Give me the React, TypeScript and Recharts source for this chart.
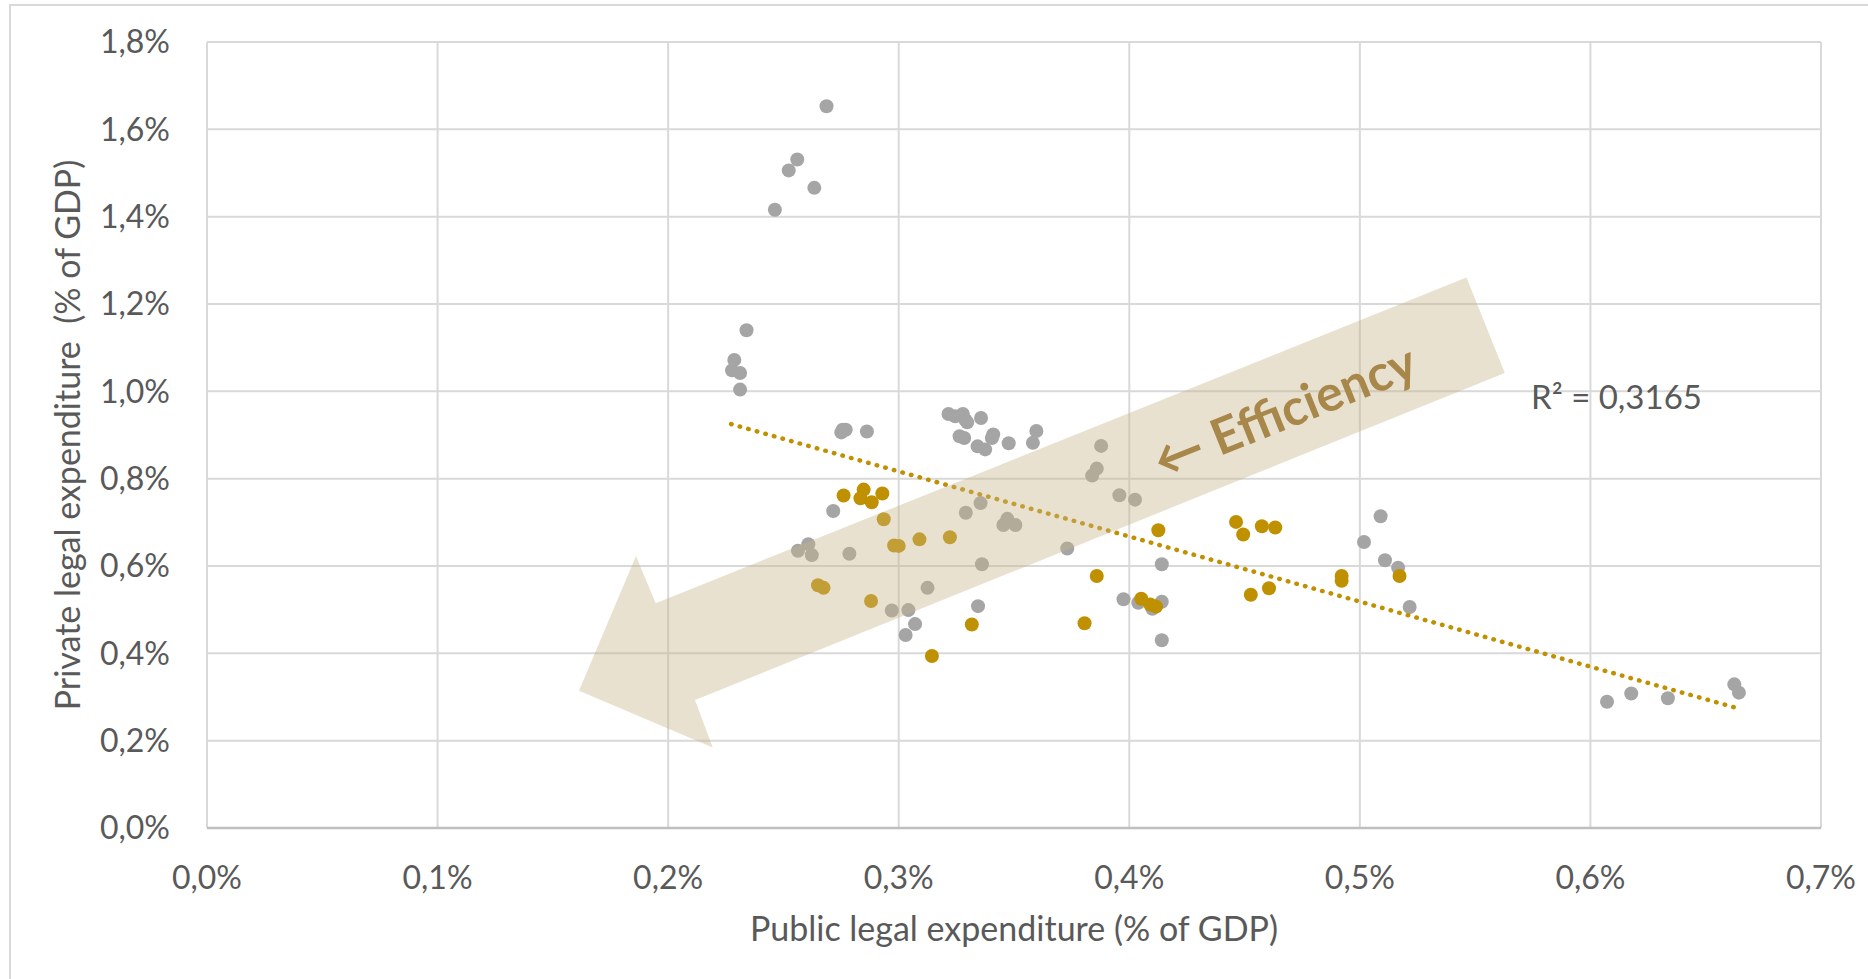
import { CartesianGrid, Scatter, ScatterChart, XAxis, YAxis } from "recharts";

// public legal expenditure (x) and private legal expenditure (y), % of GDP
const grayX = [
	0.2687, 0.256, 0.2523, 0.2634, 0.2463, 0.234, 0.2287, 0.2277, 0.2312, 0.2312,
	0.2757, 0.277, 0.2751, 0.2862, 0.3216, 0.3245, 0.3278, 0.329, 0.3297, 0.3357,
	0.3264, 0.3284, 0.3342, 0.3375, 0.341, 0.3404, 0.3477, 0.3582, 0.3597, 0.3878,
	0.3859, 0.3839, 0.3957, 0.4025, 0.2716, 0.3355, 0.3291, 0.3471, 0.3454, 0.3506,
	0.2608, 0.2563, 0.2623, 0.2786, 0.3731, 0.3361, 0.3125, 0.297, 0.3042, 0.3071,
	0.303, 0.3344, 0.4141, 0.3975, 0.4039, 0.41, 0.4141, 0.4141, 0.509, 0.5018,
	0.5109, 0.5166, 0.5216, 0.6072, 0.6177, 0.6336, 0.6624, 0.6644,
];
const grayY = [
	1.653, 1.531, 1.506, 1.466, 1.416, 1.14, 1.072, 1.048, 1.042, 1.004,
	0.912, 0.912, 0.906, 0.908, 0.948, 0.943, 0.948, 0.934, 0.929, 0.939,
	0.897, 0.893, 0.874, 0.867, 0.901, 0.893, 0.881, 0.882, 0.909, 0.875,
	0.823, 0.807, 0.762, 0.752, 0.726, 0.744, 0.722, 0.708, 0.694, 0.694,
	0.65, 0.635, 0.625, 0.628, 0.64, 0.604, 0.55, 0.498, 0.499, 0.467,
	0.442, 0.508, 0.604, 0.524, 0.516, 0.502, 0.518, 0.43, 0.714, 0.655,
	0.613, 0.596, 0.506, 0.289, 0.308, 0.297, 0.329, 0.31,
];
const goldX = [
	0.2761, 0.2848, 0.2834, 0.2883, 0.2929, 0.2935, 0.298, 0.3, 0.309, 0.3222,
	0.265, 0.2674, 0.288, 0.3317, 0.3144, 0.3859, 0.3806, 0.4126, 0.4052, 0.4091,
	0.4116, 0.4463, 0.4494, 0.4575, 0.4633, 0.4527, 0.4606, 0.4921, 0.4921, 0.5172,
];
const goldY = [
	0.7615, 0.775, 0.755, 0.746, 0.766, 0.707, 0.647, 0.646, 0.661, 0.666,
	0.556, 0.55, 0.52, 0.466, 0.394, 0.577, 0.469, 0.682, 0.525, 0.512,
	0.507, 0.701, 0.672, 0.691, 0.688, 0.534, 0.549, 0.577, 0.566, 0.577,
];
// linear trendline end points as drawn
const trendX = [0.2273, 0.664];
const trendY = [0.925, 0.274];

const xTicks = [0, 0.1, 0.2, 0.3, 0.4, 0.5, 0.6, 0.7];
const yTicks = [0, 0.2, 0.4, 0.6, 0.8, 1.0, 1.2, 1.4, 1.6, 1.8];

const xTitle = "Public legal expenditure (% of GDP)";
const yTitle = "Private legal expenditure \u00A0(% of GDP)";
const r2Text = "R² = 0,3165";
const arrowText = "← Efficiency";

const GRAY = "#A5A5A5";
const GOLD = "#BF9000";
const TEXT = "#595959";

const toPoints = (xs: number[], ys: number[]) => xs.map((x, i) => ({ x, y: ys[i] }));
const pct = (v: number) => v.toFixed(1).replace(".", ",") + "%";

const dot = (color: string) => (props: any) => (
	<circle cx={props.cx} cy={props.cy} r={7} fill={color} />
);

export default function App() {
	return (
		<div
			style={{
				position: "absolute",
				left: 0,
				top: 0,
				width: 1868,
				height: 979,
				background: "#fff",
				overflow: "hidden",
				fontFamily: "Lato, sans-serif",
			}}
		>
			<div
				style={{
					position: "absolute",
					left: 9,
					top: 4,
					width: 1900,
					height: 1000,
					borderTop: "2px solid #D9D9D9",
					borderLeft: "2px solid #D9D9D9",
				}}
			/>
			<ScatterChart
				width={1868}
				height={979}
				margin={{ top: 42, right: 47, bottom: 26, left: 20 }}
			>
				<CartesianGrid stroke="#D9D9D9" strokeWidth={2} />
				<XAxis
					type="number"
					dataKey="x"
					domain={[0, 0.7]}
					ticks={xTicks}
					tickFormatter={pct}
					height={125}
					tickLine={false}
					tickSize={0}
					tickMargin={38}
					axisLine={{ stroke: "#BFBFBF", strokeWidth: 2.5 }}
					tick={{ fontSize: 32, fill: TEXT }}
					label={{
						value: xTitle,
						position: "insideBottom",
						offset: 12,
						fontSize: 34,
						fill: TEXT,
					}}
				/>
				<YAxis
					type="number"
					dataKey="y"
					domain={[0, 1.8]}
					ticks={yTicks}
					tickFormatter={pct}
					width={187}
					tickLine={false}
					tickSize={0}
					tickMargin={37}
					axisLine={false}
					tick={{ fontSize: 32, fill: TEXT }}
					label={{
						value: yTitle,
						position: "insideLeft",
						angle: -90,
						offset: 48,
						fontSize: 34,
						fill: TEXT,
						style: { textAnchor: "middle" },
					}}
				/>
				<Scatter
					data={toPoints(grayX, grayY)}
					shape={dot(GRAY)}
					isAnimationActive={false}
				/>
				<Scatter
					data={toPoints(goldX, goldY)}
					shape={dot(GOLD)}
					isAnimationActive={false}
				/>
				<Scatter
					data={toPoints(trendX, trendY)}
					shape={() => <g />}
					line={{
						stroke: GOLD,
						strokeWidth: 4.5,
						strokeDasharray: "0.5 8.4",
						strokeLinecap: "round",
					}}
					isAnimationActive={false}
				/>
			</ScatterChart>
			<svg
				width={1868}
				height={979}
				style={{ position: "absolute", left: 0, top: 0, pointerEvents: "none" }}
			>
				<polygon
					points="1466.5,277.6 1504.8,373 695,700 712.7,747.5 579,690.7 636,556 655.7,603.3"
					fill="#C9B48A"
					fillOpacity={0.4}
				/>
				<text
					x={1284}
					y={410}
					transform="rotate(-21.9 1284 410)"
					textAnchor="middle"
					dominantBaseline="central"
					fontSize={50}
					fontWeight={700}
					fill="#A8884A"
				>
					{arrowText}
				</text>
				<text x={1531} y={396} dominantBaseline="central" fontSize={33} fill={TEXT}>
					{r2Text}
				</text>
			</svg>
		</div>
	);
}
